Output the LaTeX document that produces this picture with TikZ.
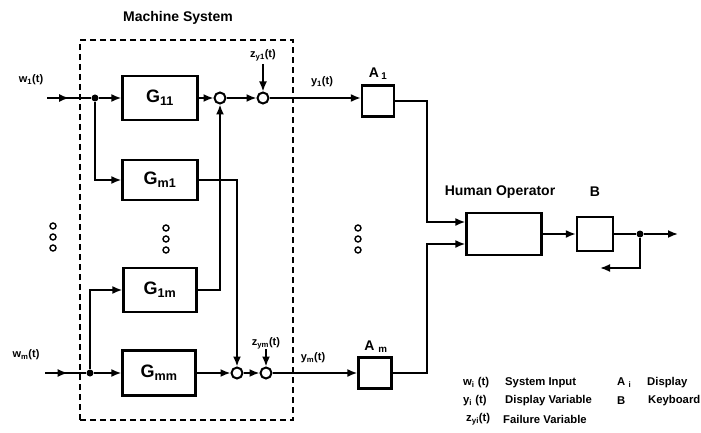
\documentclass[tikz,border=0pt]{standalone}
\usepackage{fontspec}
\setmainfont{Liberation Sans}
\usetikzlibrary{arrows.meta,decorations.markings}
\begin{document}
\begin{tikzpicture}[x=1pt,y=-1pt,
  font=\bfseries,
  blk/.style={draw, line width=2.3pt, inner sep=0pt},
  dashbox/.style={draw, dashed, dash pattern=on 6pt off 4pt, line width=1.5pt, inner sep=0pt},
  sumc/.style={circle, draw, line width=2pt, minimum size=11pt, inner sep=0pt},
  jdot/.style={circle, fill, minimum size=7pt, inner sep=0pt},
  edots/.style={circle, draw, line width=1.4pt, minimum size=6pt, inner sep=0pt},
  conn/.style={line width=1.8pt},
  arr/.style={conn, -{Latex[length=10pt,width=8pt]}},
  midarr/.style={conn, postaction={decorate}, decoration={markings, mark=at position #1 with {\arrow{Latex[length=10pt,width=8pt]}}}},
  lab/.style={font=\bfseries\fontsize{14}{16}\selectfont, inner sep=0pt},
  gl/.style={font=\bfseries\fontsize{18}{20}\selectfont},
  sl/.style={font=\bfseries\fontsize{11}{13}\selectfont, inner sep=0pt},
  leg/.style={font=\bfseries\fontsize{11.3}{13}\selectfont, anchor=west, inner sep=0pt},
]
\useasboundingbox (0,0) rectangle (701,433);

% machine system frame
\node[dashbox, minimum width=213pt, minimum height=380pt] (msys) at (186.5,230) {};
\node[lab] (msl) at (178,18) {Machine System};

% blocks
\node[blk, gl, minimum width=75pt, minimum height=44pt] (G11) at (160,98) {G\textsubscript{11}};
\node[blk, gl, minimum width=75pt, minimum height=40pt] (Gm1) at (160,180) {G\textsubscript{m1}};
\node[blk, gl, minimum width=73pt, minimum height=44pt] (G1m) at (160,290) {G\textsubscript{1m}};
\node[blk, gl, minimum width=73pt, minimum height=45pt] (Gmm) at (159,373) {G\textsubscript{mm}};

% summing points
\node[sumc] (s11) at (220,98) {};
\node[sumc] (s12) at (263,98) {};
\node[sumc] (sm1) at (237,373) {};
\node[sumc] (sm2) at (266,373) {};

% displays, operator, keyboard
\node[blk, minimum width=32pt, minimum height=31pt] (A1) at (378,101) {};
\node[blk, minimum width=33pt, minimum height=31pt] (Am) at (375,373) {};
\node[blk, minimum width=75pt, minimum height=42pt] (HO) at (504,234) {};
\node[blk, minimum width=36pt, minimum height=34pt] (B) at (595,234) {};
\node[lab] (A1l) at (378,74) {A\,\textsubscript{1}};
\node[lab] (Aml) at (376,347) {A \textsubscript{m}};
\node[lab] (HOl) at (500,192) {Human Operator};
\node[lab] (Bl) at (595,192) {B};

% signal labels
\node[sl] (w1l) at (31,80) {w\textsubscript{1}(t)};
\node[sl] (wml) at (26,355) {w\textsubscript{m}(t)};
\node[sl] (z1l) at (263,55) {z\textsubscript{y1}(t)};
\node[sl] (zml) at (266,343) {z\textsubscript{ym}(t)};
\node[sl] (y1l) at (322,82) {y\textsubscript{1}(t)};
\node[sl] (yml) at (313,358) {y\textsubscript{m}(t)};

% top row
\coordinate (in1) at (47,98);
\node[jdot] (j1) at (95,98) {};
\draw[midarr=0.5] (in1) -- (j1);
\draw[arr] (j1) -- (G11.west);
\draw[arr] (j1) |- (Gm1.west);
\draw[arr] (G11.east) -- (s11.west);
\draw[arr] (s11) -- (s12);
\draw[arr] (s12) -- (s12 -| A1.west);
\coordinate (z1) at (263,64);
\draw[arr] (z1) -- (s12.north);
\draw[arr] (Gm1.east) -| (sm1.north);
\draw[arr] (G1m.east) -| (s11.south);

% bottom row
\coordinate (inm) at (45,373);
\node[jdot] (jm) at (90,373) {};
\draw[midarr=0.55] (inm) -- (jm);
\draw[arr] (jm) -- (Gmm.west);
\draw[arr] (jm) |- (G1m.west);
\draw[arr] (Gmm.east) -- (sm1.west);
\draw[arr] (sm1) -- (sm2);
\draw[arr] (sm2) -- (sm2 -| Am.west);
\coordinate (zm) at (266,349);
\draw[arr] (zm) -- (sm2.north);

% to human operator
\coordinate (hA) at (427,222);
\coordinate (hB) at (427,244);
\draw[arr] (A1.east) -| (hA) -- (hA -| HO.west);
\draw[arr] (Am.east) -| (hB) -- (hB -| HO.west);
\draw[arr] (HO.east) -- (B.west);
\node[jdot] (jB) at (640,234) {};
\draw[conn] (B.east) -- (jB);
\coordinate (outB) at (678,234);
\coordinate (fb) at (600,268);
\draw[arr] (jB) -- (outB);
\draw[arr] (jB) |- (fb);

% ellipsis dots
\foreach \c/\x/\y in {a/53/226, b/53/237, c/53/248, d/166/228, e/166/239, f/166/250, g/358/228, h/358/239, i/358/250}
  \node[edots] (dot\c) at (\x,\y) {};

% legend
\node[leg] (lw) at (463,383) {w\textsubscript{i} (t)};
\node[leg] (lwt) at (505,383) {System Input};
\node[leg] (ly) at (463,401) {y\textsubscript{i} (t)};
\node[leg] (lyt) at (505,401) {Display Variable};
\node[leg] (lz) at (466,419) {z\textsubscript{yi}(t)};
\node[leg] (lzt) at (503,419) {Failure Variable};
\node[leg] (la) at (617,383) {A \textsubscript{i}};
\node[leg] (lat) at (647,383) {Display};
\node[leg] (lb) at (617,401) {B};
\node[leg] (lbt) at (648,401) {Keyboard};
\end{tikzpicture}
\end{document}
